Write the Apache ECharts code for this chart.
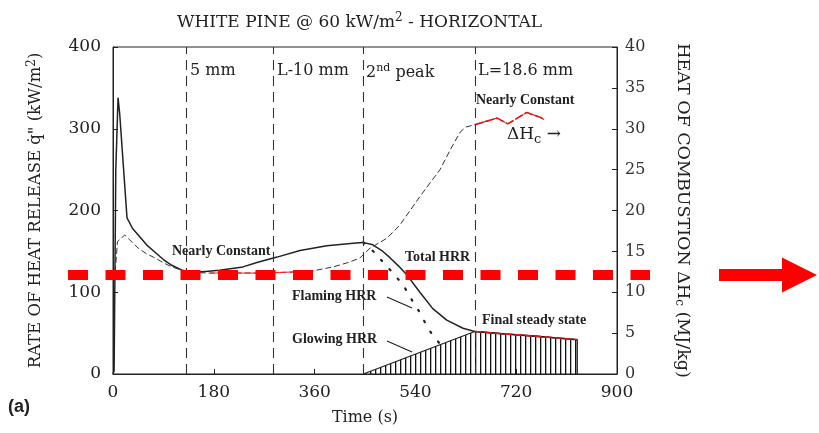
<!DOCTYPE html>
<html>
<head>
	<meta charset="utf-8">
	<title>White pine 60 kW/m2</title>
	<script src="https://cdn.jsdelivr.net/npm/echarts@6/dist/echarts.min.js"></script>
	<style>
		html, body { margin: 0; padding: 0; background: #fff; }
	</style>
</head>
<body>
	<div id="main" style="width: 819px;height: 433px"></div>
	<script type="text/javascript">
	// 数据
	const timeTicks = [0, 180, 360, 540, 720, 900];
	const dividers = [130, 287, 447, 646];
	const dividerNames = ['5 mm', 'L-10 mm', '2{sup|nd} peak', 'L=18.6 mm'];

	// 总放热率 kW/m2
	const totalHrr = [
		[0, 0], [2, 4], [5, 250], [9, 338], [12, 318], [25, 191], [35, 178], [45, 170],
		[60, 158], [75, 149], [90, 140], [105, 133], [123, 127], [140, 125], [160, 125],
		[190, 127], [232, 131], [260, 137], [293, 143], [334, 151], [382, 157], [429, 160],
		[446, 161], [464, 158], [480, 151], [495, 142], [510, 132], [525, 121], [548, 100],
		[571, 80], [596, 66], [625, 56], [646, 52], [700, 49], [760, 46], [829, 42]
	];
	// 有焰燃烧
	const flamingHrr = [
		[447, 161], [468, 148], [482, 137], [498, 125], [518, 109], [536, 88],
		[550, 73], [562, 56], [575, 44], [590, 32]
	];
	// 无焰（阴燃）
	const glowingHrr = [[447, 0], [646, 52], [700, 49], [760, 46], [829, 42], [829, 0]];
	const steadyState = [[646, 52], [700, 49], [760, 46], [829, 42]];
	// 燃烧热 MJ/kg
	const heatComb = [
		[4, 12.5], [8, 16.2], [21, 17], [30, 16.4], [45, 15.4], [60, 14.7], [75, 14.2],
		[90, 13.6], [105, 13.1], [123, 12.7], [150, 12.4], [173, 12.35], [220, 12.35],
		[262, 12.35], [310, 12.45], [352, 12.55], [393, 13.1], [423, 13.7], [441, 14.2],
		[459, 15.4], [489, 16.6], [512, 18.2], [548, 21.7], [584, 25.0], [602, 27.4],
		[620, 29.6], [630, 30.2], [646, 30.5], [666, 30.9], [686, 31.3], [705, 30.6],
		[722, 31.3], [739, 32.0], [766, 31.3], [770, 31.1]
	];
	const cutLevel = 121; // 红色虚线（左轴）

	const serif = 'DejaVu Serif';
	const ink = '#222';

	// 竖线填充图案
	const hatch = document.createElement('canvas');
	hatch.width = 5;
	hatch.height = 4;
	const hctx = hatch.getContext('2d');
	hctx.fillStyle = '#111';
	hctx.fillRect(0, 0, 1.3, 4);

	const chart = echarts.init(document.getElementById('main'));

	const option = {
		animation: false,
		title: {
			text: 'WHITE PINE @ 60 kW/m{sup|2} - HORIZONTAL',
			left: 172,
			top: 7,
			textStyle: {
				fontFamily: serif, fontSize: 17, fontWeight: 'normal', color: ink,
				rich: {
					sup: { fontFamily: serif, fontSize: 12, color: ink, verticalAlign: 'top', padding: [0, 0, 9, 0] }
				}
			}
		},
		grid: {
			left: 113, right: 202, top: 47, bottom: 59,
			show: true, borderColor: ink, borderWidth: 1
		},
		xAxis: {
			type: 'value', min: 0, max: 900, interval: 180,
			name: 'Time (s)', nameLocation: 'middle', nameGap: 36,
			nameTextStyle: { fontFamily: serif, fontSize: 16, color: ink },
			axisLine: { lineStyle: { color: ink } },
			axisTick: { inside: true, length: 5, lineStyle: { color: ink } },
			axisLabel: {
				fontFamily: serif, fontSize: 17, color: ink, margin: 10,
				formatter: function (v) { return timeTicks.indexOf(v) >= 0 ? v : ''; }
			},
			splitLine: { show: false }
		},
		yAxis: [{
			type: 'value', min: 0, max: 400, interval: 100,
			name: 'RATE OF HEAT RELEASE q\u0307" (kW/m{sup|2})',
			nameLocation: 'middle', nameGap: 67,
			nameTextStyle: {
				fontFamily: serif, fontSize: 16.5, color: ink,
				rich: {
					sup: { fontFamily: serif, fontSize: 12, color: ink, verticalAlign: 'top', padding: [0, 0, 8, 0] }
				}
			},
			axisLine: { show: true, lineStyle: { color: ink } },
			axisTick: { show: true, inside: true, length: 5, lineStyle: { color: ink } },
			axisLabel: { fontFamily: serif, fontSize: 17, color: ink, margin: 12 },
			splitLine: { show: false }
		}, {
			type: 'value', min: 0, max: 40, interval: 5, position: 'right',
			name: 'HEAT OF COMBUSTION \u0394H{sub|c} (MJ/kg)',
			nameLocation: 'middle', nameGap: 56, nameRotate: -90,
			nameTextStyle: {
				fontFamily: serif, fontSize: 17.5, color: ink,
				rich: {
					sub: { fontFamily: serif, fontSize: 12, color: ink, verticalAlign: 'bottom', padding: [8, 0, 0, 0] }
				}
			},
			axisLine: { show: true, lineStyle: { color: ink } },
			axisTick: { show: true, inside: true, length: 5, lineStyle: { color: ink } },
			axisLabel: { fontFamily: serif, fontSize: 16, color: '#333', margin: 8 },
			splitLine: { show: false }
		}],
		series: [{
			name: 'Total HRR',
			type: 'line',
			data: totalHrr,
			showSymbol: false,
			lineStyle: { color: ink, width: 1.5 },
			markLine: {
				silent: true,
				symbol: 'none',
				label: { show: false },
				lineStyle: { color: '#333', width: 1.1, type: [10, 6] },
				data: dividers.map(function (x) { return { xAxis: x }; })
			}
		}, {
			name: 'Glowing HRR',
			type: 'line',
			data: glowingHrr,
			showSymbol: false,
			lineStyle: { color: ink, width: 1.3 },
			areaStyle: { color: { image: hatch, repeat: 'repeat' }, opacity: 1 }
		}, {
			name: 'Flaming HRR',
			type: 'line',
			data: flamingHrr,
			showSymbol: false,
			lineStyle: { color: ink, width: 2.2, type: [1.5, 11], cap: 'round' }
		}, {
			name: 'Heat of combustion',
			type: 'line',
			yAxisIndex: 1,
			data: heatComb,
			showSymbol: false,
			lineStyle: { color: '#333', width: 1, type: [6, 3] }
		}, {
			name: 'Nearly constant (low)',
			type: 'line',
			yAxisIndex: 1,
			data: heatComb.filter(function (p) { return p[0] >= 165 && p[0] <= 360; }),
			showSymbol: false,
			lineStyle: { color: '#ff2020', width: 1 }
		}, {
			name: 'Nearly constant (high)',
			type: 'line',
			yAxisIndex: 1,
			data: heatComb.filter(function (p) { return p[0] >= 646; }),
			showSymbol: false,
			lineStyle: { color: '#ee1111', width: 1.6, type: [9, 2] }
		}, {
			name: 'Final steady state',
			type: 'line',
			data: steadyState,
			showSymbol: false,
			lineStyle: { color: '#ee1111', width: 1.6, type: [7, 3] }
		}]
	};
	chart.setOption(option);

	// 注释文字与红色标记
	const yCut = chart.convertToPixel({ yAxisIndex: 0 }, cutLevel);
	const bold = 'bold 14px "Liberation Serif"';
	const plain = '16px "DejaVu Serif"';
	const graphics = [];
	const nameX = [190, 277, 366, 478];
	dividerNames.forEach(function (t, i) {
		graphics.push({
			type: 'text', left: nameX[i], top: 63, z: 10,
			style: {
				text: t, font: plain, fill: ink,
				rich: { sup: { fontSize: 11, fontFamily: serif, verticalAlign: 'top', padding: [0, 0, 8, 0] } }
			}
		});
	});
	[
		['Nearly Constant', 172, 244],
		['Total HRR', 405, 250],
		['Flaming HRR', 292, 289],
		['Glowing HRR', 292, 332],
		['Final steady state', 482, 313],
		['Nearly Constant', 476, 93]
	].forEach(function (a) {
		graphics.push({ type: 'text', left: a[1], top: a[2], z: 10, style: { text: a[0], font: bold, fill: ink } });
	});
	graphics.push({
		type: 'text', left: 507, top: 126, z: 10,
		style: {
			text: '\u0394H{sub|c} \u2192', font: '17px "DejaVu Serif"', fill: ink,
			rich: { sub: { fontSize: 13, fontFamily: serif, verticalAlign: 'bottom', padding: [10, 0, 0, 0] } }
		}
	});
	// 引导线
	graphics.push({ type: 'line', z: 10, shape: { x1: 387, y1: 297, x2: 412, y2: 308 }, style: { stroke: ink, lineWidth: 1.2 } });
	graphics.push({ type: 'line', z: 10, shape: { x1: 387, y1: 341, x2: 412, y2: 352 }, style: { stroke: ink, lineWidth: 1.2 } });
	// 红色粗虚线与箭头
	graphics.push({
		type: 'line', z: 20,
		shape: { x1: 68, y1: yCut, x2: 650, y2: yCut },
		style: { stroke: '#ff0000', lineWidth: 10, lineDash: [20, 17.5] }
	});
	graphics.push({
		type: 'polygon', z: 20,
		shape: { points: [[719, yCut - 6], [782, yCut - 6], [782, yCut - 17.5], [817, yCut], [782, yCut + 17.5], [782, yCut + 6], [719, yCut + 6]] },
		style: { fill: '#ff0000' }
	});
	graphics.push({
		type: 'text', left: 8, top: 398, z: 10,
		style: { text: '(a)', font: 'bold 18px "Liberation Sans"', fill: ink }
	});
	chart.setOption({ graphic: graphics });
	</script>
</body>
</html>
